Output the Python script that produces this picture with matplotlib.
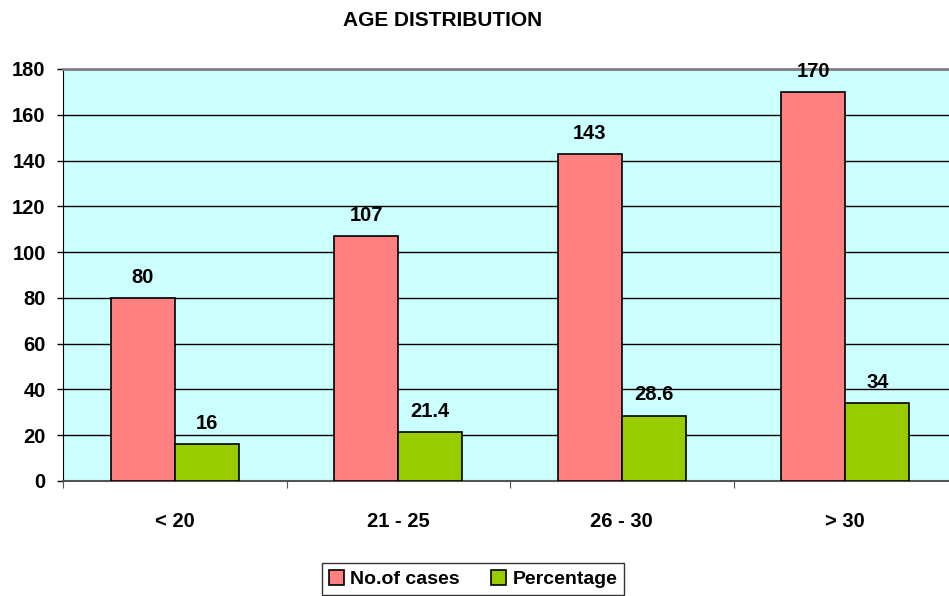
import matplotlib
matplotlib.use("Agg")
import matplotlib.pyplot as plt
import numpy as np

plt.rcParams['font.family'] = ['Liberation Sans', 'DejaVu Sans']
plt.rcParams['font.weight'] = 'bold'

age_groups = ["< 20", "21 - 25", "26 - 30", "> 30"]
cases = [80, 107, 143, 170]
percentage = [16, 21.4, 28.6, 34]
y_ticks = [0, 20, 40, 60, 80, 100, 120, 140, 160, 180]

W, H = 949, 596
fig = plt.figure(figsize=(W / 100, H / 100), dpi=100)
fig.patch.set_facecolor('white')

# plot area runs off the right edge of the canvas
ax = fig.add_axes([63 / W, 1 - 481 / H, 4 * 223.5 / W, 412 / H])
ax.set_facecolor('#CCFFFF')

x = np.arange(len(age_groups)) + 0.5
bw = 64 / 223.5
b1 = ax.bar(x - bw / 2, cases, bw, color='#FF8080', edgecolor='black',
            linewidth=1.2, label='No.of cases', zorder=3)
b2 = ax.bar(x + bw / 2, percentage, bw, color='#99CC00', edgecolor='black',
            linewidth=1.2, label='Percentage', zorder=3)

for bars, vals in ((b1, cases), (b2, percentage)):
    for rect, v in zip(bars, vals):
        ax.annotate(f"{v:g}", (rect.get_x() + rect.get_width() / 2, v),
                    xytext=(0, 8), textcoords='offset points',
                    ha='center', va='bottom', fontsize=14.5, fontweight='bold')

ax.set_xlim(0, 4)
ax.set_ylim(0, 180)
ax.set_yticks(y_ticks)
ax.yaxis.grid(True, color='black', linewidth=1, zorder=0)
ax.set_axisbelow(True)

ax.set_xticks(np.arange(0, 5))
ax.set_xticklabels([])
ax.set_xticks(x, minor=True)
ax.set_xticklabels(age_groups, minor=True)
ax.tick_params(axis='x', which='minor', length=0, pad=22, labelsize=14.5)
ax.tick_params(axis='x', which='major', length=5, color='#555555')
ax.tick_params(axis='y', length=4.5, width=1, pad=8, labelsize=14.5)

ax.spines['top'].set_color('#808080')
ax.spines['top'].set_linewidth(2)
ax.spines['right'].set_visible(False)
ax.spines['left'].set_color('black')
ax.spines['bottom'].set_color('#555555')
ax.spines['bottom'].set_linewidth(1.5)

fig.text(443 / W, 1 - 20 / H, "AGE DISTRIBUTION", ha='center', va='center',
         fontsize=15, fontweight='bold')

leg = fig.legend(handles=[b1, b2], loc='upper left',
                 bbox_to_anchor=(322 / W, 1 - 563 / H), ncol=2,
                 fontsize=14, frameon=True, fancybox=False, edgecolor='black',
                 handlelength=0.8, handleheight=0.8, handletextpad=0.3,
                 columnspacing=1.6, borderpad=0.35, borderaxespad=0)
leg.get_frame().set_linewidth(1)

fig.savefig("out.png", dpi=100)
